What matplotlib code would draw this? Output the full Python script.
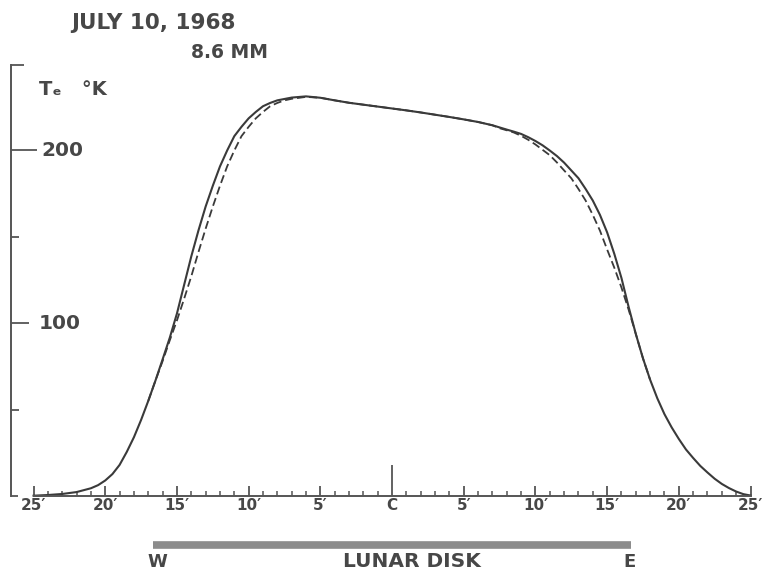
import numpy as np
import matplotlib.pyplot as plt

# brightness temperature across the moon, 8.6 mm, July 10 1968
# offset in arcmin from the centre (W negative), T in K
x_solid = [-25, -24, -23, -22, -21,
           -20.5, -20, -19.5, -19, -18.5, -18, -17.5, -17, -16.5, -16, -15.5, -15, -14.5,
           -14, -13.5, -13, -12.5, -12, -11.5, -11, -10.5, -10, -9.5, -9, -8.5, -8,
           -7, -6, -5, -4, -3, -2, -1, 0, 1, 2, 3, 4, 5, 6, 7, 8,
           8.5, 9, 9.5, 10, 10.5, 11, 11.5, 12, 12.5, 13, 13.5, 14, 14.5, 15, 15.5, 16,
           16.5, 17, 17.5, 18, 18.5, 19, 19.5, 20, 20.5, 21, 21.5, 22, 22.5, 23, 23.5,
           24, 24.5, 25]
t_solid = [0.2, 0.6, 1.2, 2.3, 4.5,
           6.3, 9, 12.7, 18, 25.5, 34, 44, 55, 66.7, 79, 91.5, 105.5, 122,
           138.5, 153.5, 167.3, 179.3, 190.5, 199.7, 208, 213.4, 218.3, 222, 225.3, 227.2, 228.7,
           230.3, 231, 230.2, 228.7, 227.3, 226.2, 225.1, 224, 222.9, 221.7, 220.4, 219.1,
           217.7, 216.2, 214.3, 211.8,
           210.6, 209.3, 207.4, 205.2, 202.7, 199.7, 196.5, 192.7, 188.2, 183.7, 177.5, 170.8,
           162.5, 152.4, 140, 126, 109.3, 93.7, 79.6, 67.2, 56.5, 47.3, 39.7, 33, 26.9, 22,
           17.4, 13.6, 10, 7, 4.6, 2.6, 1.1, 0.3]

x_dashed = [-17, -16.5, -16, -15.5, -15, -14.5, -14, -13.5, -13, -12.5, -12, -11.5, -11,
            -10.5, -10, -9.5, -9, -8.5, -8, -7.5, -7,
            -6, -5, -4, -3, -2, -1, 0, 1, 2, 3, 4, 5, 6, 7,
            7.5, 8, 8.5, 9, 9.5, 10, 10.5, 11, 11.5, 12, 12.5, 13, 13.5, 14, 14.5, 15,
            15.5, 16, 16.5, 17, 17.5, 18]
t_dashed = [55, 66.7, 78, 90, 101.5, 114, 127, 141, 154.5, 167.3, 179.3, 190.5, 199.7,
            208, 213.4, 218.3, 222, 225.3, 227.2, 228.7, 229.6,
            230.7, 230.2, 228.7, 227.3, 226.2, 225.1, 224, 222.9, 221.7, 220.4, 219.1,
            217.7, 216.2, 214.3,
            212.6, 211.4, 210.1, 208.2, 205.9, 203.2, 200.1, 197, 192.8, 188.2, 183.7,
            177.5, 170.8, 162.5, 153.4, 142.5, 132, 120.5, 107.7, 93.7, 79.6, 67.2]

xmajor = np.arange(-25, 26, 5)
xminor = np.arange(-25, 26, 1)
xlabels = ["25\u2032", "20\u2032", "15\u2032", "10\u2032", "5\u2032", "C",
           "5\u2032", "10\u2032", "15\u2032", "20\u2032", "25\u2032"]
yticks = [0, 50, 100, 150, 200, 249]
ytick_len = [5, 6, 13, 6, 19, 9]   # points
ylab_vals = [100, 200]
ylab_text = ["100", "200"]
disk_r = 16.65

ink = "#3a3a3a"
txt = "#474747"
axc = "#555555"

fig = plt.figure(figsize=(7.66, 5.72), dpi=100)
ax = fig.add_axes([0, 0, 1, 1])
ax.set_xlim(-27.34, 26.08)
ax.set_ylim(-43.9, 286.7)

ax.plot(x_solid, t_solid, color=ink, lw=1.5)
ax.plot(x_dashed, t_dashed, color=ink, lw=1.3, dashes=(4.5, 2.2))

# axes
for s in ["top", "right"]:
    ax.spines[s].set_visible(False)
ax.spines["left"].set_position(("data", -26.6))
ax.spines["left"].set_bounds(0, 249)
ax.spines["bottom"].set_position(("data", 0))
ax.spines["bottom"].set_bounds(-25, 25)
for s in ["left", "bottom"]:
    ax.spines[s].set_color(axc)
    ax.spines[s].set_linewidth(1.4)

ax.set_xticks(xmajor)
ax.set_xticklabels(xlabels)
ax.set_xticks(xminor, minor=True)
ax.tick_params(axis="x", which="major", direction="in", length=7, width=1.3,
               color=axc, pad=1.5, labelsize=11, labelcolor=txt)
ax.tick_params(axis="x", which="minor", direction="in", length=3.5, width=1.1,
               color=axc)
for lab in ax.get_xticklabels():
    lab.set_fontweight("bold")

ax.set_yticks(yticks)
ax.set_yticklabels([])
ax.tick_params(axis="y", direction="in", width=1.3, color=axc)
for tk, ln in zip(ax.yaxis.get_major_ticks(), ytick_len):
    tk.tick1line.set_markersize(ln)
# tall centre mark
ax.xaxis.get_major_ticks()[5].tick1line.set_markersize(22)

for v, lab in zip(ylab_vals, ylab_text):
    ax.annotate(lab, xy=(-26.6, v), xytext=(22 if v == 200 else 20, 0),
                textcoords="offset points", va="center", ha="left",
                fontsize=14.5, fontweight="bold", color=txt)

fig.text(39 / 766, 1 - 90 / 572, "T\u2091   \u00b0K", fontsize=14, fontweight="bold",
         color=txt, va="center", ha="left")
fig.text(71 / 766, 1 - 23 / 572, "JULY 10, 1968", fontsize=15.5, fontweight="bold",
         color=txt, va="center", ha="left")
fig.text(191 / 766, 1 - 52 / 572, "8.6 MM", fontsize=13.5, fontweight="bold",
         color=txt, va="center", ha="left")

# lunar disk bar
ax.plot([-disk_r, disk_r], [-28.3, -28.3], color="#8c8c8c", lw=5.5,
        solid_capstyle="butt")
ax.annotate("W", xy=(-disk_r, -28.3), xytext=(3, -12), textcoords="offset points",
            ha="center", va="center", fontsize=13, fontweight="bold", color=txt)
ax.annotate("E", xy=(disk_r, -28.3), xytext=(-1, -12), textcoords="offset points",
            ha="center", va="center", fontsize=13, fontweight="bold", color=txt)
ax.annotate("LUNAR DISK", xy=(1.4, -28.3), xytext=(0, -12), textcoords="offset points",
            ha="center", va="center", fontsize=14.5, fontweight="bold", color=txt)

fig.savefig("out.png", dpi=100)
